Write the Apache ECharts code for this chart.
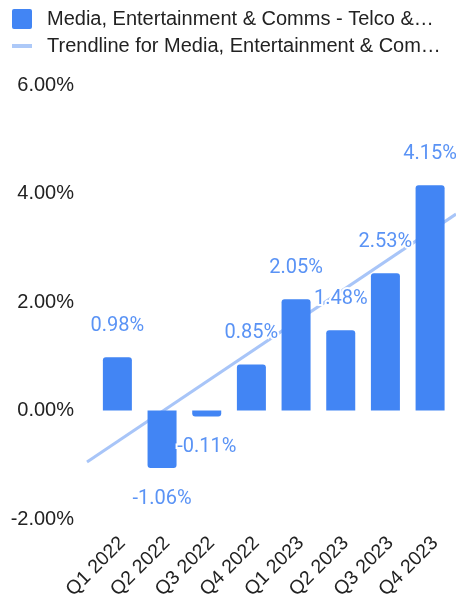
<!DOCTYPE html>
<html>
<head>
<meta charset="utf-8">
<script src="https://cdn.jsdelivr.net/npm/echarts@6/dist/echarts.min.js"></script>
<style>html,body{margin:0;padding:0;background:#fff;}#c{width:456px;height:595px;}</style>
</head>
<body>
<div id="c"></div>
<script>
const categories = ['Q1 2022','Q2 2022','Q3 2022','Q4 2022','Q1 2023','Q2 2023','Q3 2023','Q4 2023'];
const values = [0.98, -1.06, -0.11, 0.85, 2.05, 1.48, 2.53, 4.15];
const trendX = [-0.68, 7.58];
const trendY = [-0.95, 3.62];
const yTicks = [-2, 0, 2, 4, 6];
const barName = 'Media, Entertainment & Comms - Telco &\u2026';
const trendName = 'Trendline for Media, Entertainment & Com\u2026';
const labelShift = 0.11;

const chart = echarts.init(document.getElementById('c'), null, {renderer: 'canvas'});
const barData = values.map((v, i) => ({
  value: [i, v],
  itemStyle: {borderRadius: v >= 0 ? [3,3,0,0] : [0,0,3,3]},
  label: {position: v >= 0 ? 'top' : 'bottom'}
}));
chart.setOption({
  animation: false,
  legend: [{
    data: [{name: barName, icon: 'path://M2,0 H18 A2,2 0 0 1 20,2 V18 A2,2 0 0 1 18,20 H2 A2,2 0 0 1 0,18 V2 A2,2 0 0 1 2,0 Z'}],
    orient: 'vertical', left: 12, top: 9, padding: 0,
    itemWidth: 20, itemHeight: 20,
    textStyle: {fontSize: 20, color: '#222', fontFamily: 'Liberation Sans', padding: [0,0,0,10]}
  }, {
    data: [{name: trendName, icon: 'rect'}],
    orient: 'vertical', left: 12, top: 36, padding: 0,
    itemWidth: 20, itemHeight: 4,
    textStyle: {fontSize: 20, color: '#222', fontFamily: 'Liberation Sans', padding: [0,0,0,10]}
  }],
  grid: {left: 87, right: 0, top: 85, bottom: 76, containLabel: false, outerBoundsMode: 'none'},
  xAxis: {
    type: 'value', min: trendX[0], max: trendX[1],
    splitLine: {show: false}, axisTick: {show: false},
    axisLine: {show: false, onZero: false},
    axisLabel: {
      customValues: categories.map((c, i) => i + labelShift),
      formatter: v => categories[Math.round(v - labelShift)] || '',
      rotate: 45, fontSize: 19.5, color: '#222', fontFamily: 'Liberation Sans', margin: 21
    }
  },
  yAxis: {
    type: 'value', min: yTicks[0], max: yTicks[yTicks.length-1], interval: 2,
    axisLine: {show: false}, axisTick: {show: false},
    axisLabel: {formatter: v => v.toFixed(2) + '%', fontSize: 20, color: '#222', fontFamily: 'Liberation Sans', margin: 13},
    splitLine: {lineStyle: {color: yTicks.map(t => t === 0 ? '#333' : '#ccc'), width: yTicks.map(t => t === 0 ? 1.5 : 1)}}
  },
  series: [{
    name: trendName, type: 'line', z: 1,
    data: trendX.map((x, i) => [x, trendY[i]]),
    showSymbol: false, symbol: 'none',
    lineStyle: {color: '#a8c5f8', width: 3},
    itemStyle: {color: '#adc9f8'},
    silent: true
  }, {
    name: barName, type: 'bar', z: 3,
    barWidth: 29,
    data: barData,
    itemStyle: {color: '#4285f4'},
    label: {
      show: true, distance: 21,
      formatter: p => p.value[1].toFixed(2) + '%',
      fontSize: 20, fontFamily: 'Roboto', color: '#5a93f5',
      textBorderColor: '#fff', textBorderWidth: 4
    }
  }]
});
</script>
</body>
</html>
